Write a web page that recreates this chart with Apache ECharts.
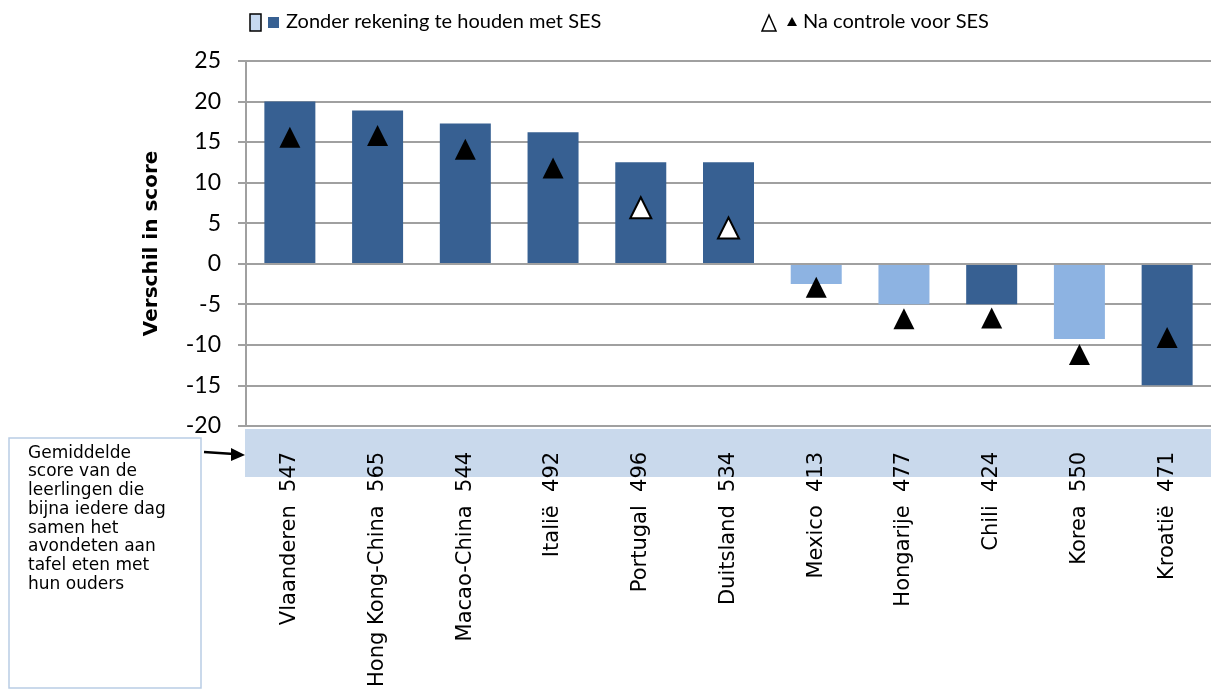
<!DOCTYPE html>
<html>
<head>
<meta charset="utf-8">
<script src="https://cdn.jsdelivr.net/npm/echarts@6/dist/echarts.min.js"></script>
<style>
html,body{margin:0;padding:0;background:#fff;}
#chart{width:1211px;height:690px;}
</style>
</head>
<body>
<div id="chart"></div>
<script>
// ---- data ----
const categories = ['Vlaanderen','Hong Kong-China','Macao-China','Italië','Portugal','Duitsland','Mexico','Hongarije','Chili','Korea','Kroatië'];
const meanScores = [547,565,544,492,496,534,413,477,424,550,471];
const diffWithoutSES = [20.0,18.9,17.3,16.2,12.5,12.5,-2.5,-5.0,-5.0,-9.3,-15.0];
const diffAfterSES = [15.6,15.8,14.1,11.8,6.9,4.4,-2.9,-6.8,-6.7,-11.2,-9.1];
const significantWithout = [true,true,true,true,true,true,false,false,true,false,true];
const significantAfter = [true,true,true,true,false,false,true,true,true,true,true];
const yTicks = {min:-20,max:25,interval:5};
const legendLabels = ['Zonder rekening te houden met SES','Na controle voor SES'];
const yAxisTitle = 'Verschil in score';
const noteText = 'Gemiddelde\nscore van de\nleerlingen die\nbijna iedere dag\nsamen het\navondeten aan\ntafel eten met\nhun ouders';

const DARK = '#376092', LIGHT = '#8DB3E2';
const FONT = 'Lato';
const WIDE = 'DejaVu Sans';

const chart = echarts.init(document.getElementById('chart'), null, {renderer:'canvas'});

const barData = diffWithoutSES.map((v,i)=>({value:v,itemStyle:{color: significantWithout[i]?DARK:LIGHT}}));
const triData = diffAfterSES.map((v,i)=>({value:v,itemStyle:{opacity:1,color: significantAfter[i]?'#000':'#fff', borderColor:'#000', borderWidth: significantAfter[i]?0:2}}));

chart.setOption({
  animation:false,
  grid:{left:246,right:-7,top:61,bottom:264,containLabel:false},
  xAxis:{
    type:'category',
    data:categories,
    axisLine:{show:true,lineStyle:{color:'#A0A0A0',width:2}},
    axisTick:{show:false},
    axisLabel:{
      rotate:90,
      margin:26,
      interval:0,
      fontFamily:WIDE,
      fontSize:21,
      color:'#000',
      formatter:(v,i)=> v + '  ' + meanScores[i]
    },
    z:5
  },
  yAxis:{
    type:'value',
    min:yTicks.min,max:yTicks.max,interval:yTicks.interval,
    name:yAxisTitle,
    nameLocation:'middle',
    nameGap:84,
    nameTextStyle:{fontFamily:WIDE,fontWeight:'bold',fontSize:20,color:'#000'},
    axisLine:{show:true,lineStyle:{color:'#A0A0A0',width:2}},
    axisTick:{show:true,length:8,lineStyle:{color:'#A0A0A0',width:2}},
    axisLabel:{fontFamily:FONT,fontSize:23,color:'#000',margin:25},
    splitLine:{show:true,lineStyle:{color:'#A0A0A0',width:2}}
  },
  series:[
    {type:'bar',data:barData,barWidth:51,z:2},
    {type:'scatter',data:triData,symbol:'triangle',symbolSize:[21,21],z:4}
  ],
  graphic:[
    // category band
    {type:'rect',shape:{x:245,y:429,width:970,height:48},style:{fill:'#C9D9EC'},z:-10,silent:true},
    // legend 1
    {type:'rect',shape:{x:250,y:14,width:11,height:17},style:{fill:'#C6D9F1',stroke:'#000',lineWidth:1.5},z:10},
    {type:'rect',shape:{x:268,y:17,width:11,height:11},style:{fill:DARK},z:10},
    {type:'text',x:286,y:22,style:{text:legendLabels[0],fontFamily:FONT,fontSize:20,fill:'#000',verticalAlign:'middle'},z:10},
    // legend 2
    {type:'polygon',shape:{points:[[769,15],[762,31],[776,31]]},style:{fill:'#fff',stroke:'#000',lineWidth:1.5},z:10},
    {type:'polygon',shape:{points:[[792,17],[787,26],[797,26]]},style:{fill:'#000'},z:10},
    {type:'text',x:803,y:22,style:{text:legendLabels[1],fontFamily:FONT,fontSize:20,fill:'#000',verticalAlign:'middle'},z:10},
    // note box
    {type:'rect',shape:{x:9,y:438,width:192,height:250},style:{fill:'#fff',stroke:'#B9CDE5',lineWidth:1.5},z:10},
    {type:'text',x:28,y:444,style:{text:noteText,fontFamily:WIDE,fontSize:17,lineHeight:18.7,fill:'#000'},z:11},
    // arrow
    {type:'line',shape:{x1:204,y1:452,x2:234,y2:454},style:{stroke:'#000',lineWidth:2.5},z:10},
    {type:'polygon',shape:{points:[[245,455],[231,448],[231,461]]},style:{fill:'#000'},z:10}
  ]
});
</script>
</body>
</html>
